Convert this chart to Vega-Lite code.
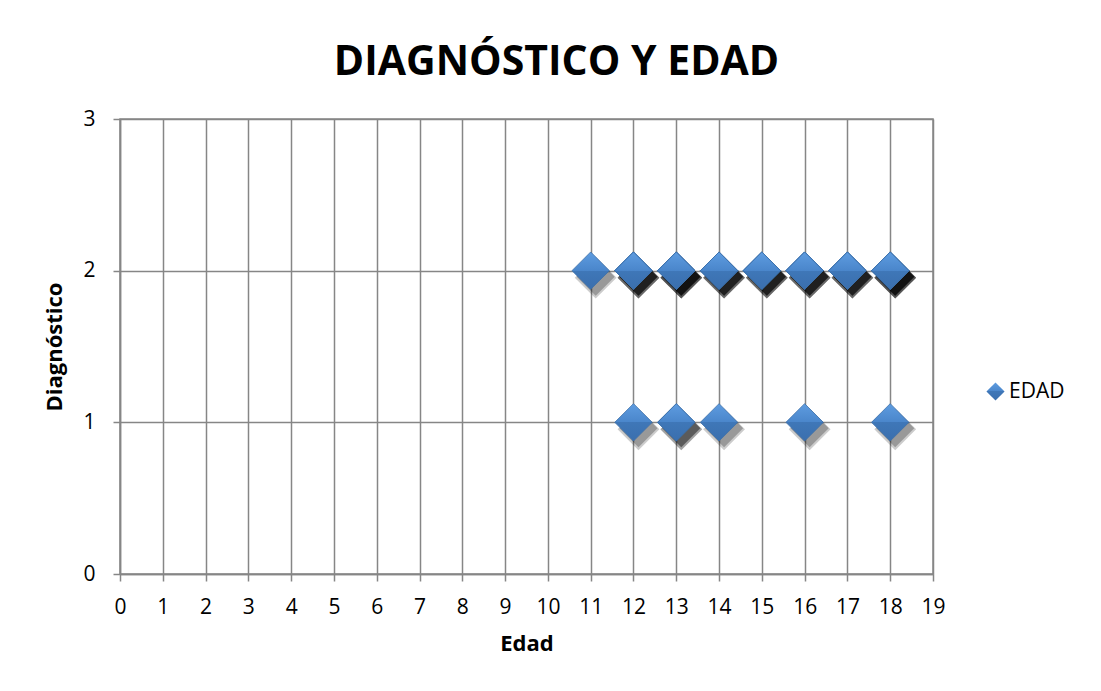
{
  "$schema": "https://vega.github.io/schema/vega-lite/v6.json",
  "width": 813,
  "height": 455,
  "autosize": {"type": "none"},
  "padding": {"left": 120, "top": 119, "right": 168, "bottom": 117},
  "background": "white",
  "config": {
    "font": "Open Sans",
    "view": {"stroke": "#868686", "strokeWidth": 1.5},
    "axis": {
      "gridColor": "#868686", "gridWidth": 1.5, "gridOpacity": 1,
      "domainColor": "#868686", "domainWidth": 1.5,
      "tickColor": "#868686", "tickWidth": 1.5, "tickSize": 7,
      "labelFont": "Open Sans", "labelFontSize": 21, "labelColor": "#000000",
      "titleFont": "Open Sans", "titleFontSize": 22, "titleFontWeight": "bold", "titleColor": "#000000"
    }
  },
  "title": {
    "text": "DIAGNÓSTICO Y EDAD",
    "font": "Open Sans", "fontSize": 41, "fontWeight": "bold", "color": "#000000",
    "anchor": "middle", "dx": 30, "offset": 24
  },
  "data": {
    "values": [
      {"Edad": 11, "Diagnostico": 2, "serie": "EDAD"},
      {"Edad": 12, "Diagnostico": 2, "serie": "EDAD"},
      {"Edad": 12, "Diagnostico": 2, "serie": "EDAD"},
      {"Edad": 12, "Diagnostico": 2, "serie": "EDAD"},
      {"Edad": 12, "Diagnostico": 2, "serie": "EDAD"},
      {"Edad": 13, "Diagnostico": 2, "serie": "EDAD"},
      {"Edad": 13, "Diagnostico": 2, "serie": "EDAD"},
      {"Edad": 13, "Diagnostico": 2, "serie": "EDAD"},
      {"Edad": 13, "Diagnostico": 2, "serie": "EDAD"},
      {"Edad": 13, "Diagnostico": 2, "serie": "EDAD"},
      {"Edad": 14, "Diagnostico": 2, "serie": "EDAD"},
      {"Edad": 14, "Diagnostico": 2, "serie": "EDAD"},
      {"Edad": 14, "Diagnostico": 2, "serie": "EDAD"},
      {"Edad": 14, "Diagnostico": 2, "serie": "EDAD"},
      {"Edad": 15, "Diagnostico": 2, "serie": "EDAD"},
      {"Edad": 15, "Diagnostico": 2, "serie": "EDAD"},
      {"Edad": 15, "Diagnostico": 2, "serie": "EDAD"},
      {"Edad": 15, "Diagnostico": 2, "serie": "EDAD"},
      {"Edad": 16, "Diagnostico": 2, "serie": "EDAD"},
      {"Edad": 16, "Diagnostico": 2, "serie": "EDAD"},
      {"Edad": 16, "Diagnostico": 2, "serie": "EDAD"},
      {"Edad": 16, "Diagnostico": 2, "serie": "EDAD"},
      {"Edad": 17, "Diagnostico": 2, "serie": "EDAD"},
      {"Edad": 17, "Diagnostico": 2, "serie": "EDAD"},
      {"Edad": 17, "Diagnostico": 2, "serie": "EDAD"},
      {"Edad": 17, "Diagnostico": 2, "serie": "EDAD"},
      {"Edad": 18, "Diagnostico": 2, "serie": "EDAD"},
      {"Edad": 18, "Diagnostico": 2, "serie": "EDAD"},
      {"Edad": 18, "Diagnostico": 2, "serie": "EDAD"},
      {"Edad": 18, "Diagnostico": 2, "serie": "EDAD"},
      {"Edad": 18, "Diagnostico": 2, "serie": "EDAD"},
      {"Edad": 12, "Diagnostico": 1, "serie": "EDAD"},
      {"Edad": 13, "Diagnostico": 1, "serie": "EDAD"},
      {"Edad": 13, "Diagnostico": 1, "serie": "EDAD"},
      {"Edad": 14, "Diagnostico": 1, "serie": "EDAD"},
      {"Edad": 16, "Diagnostico": 1, "serie": "EDAD"},
      {"Edad": 18, "Diagnostico": 1, "serie": "EDAD"}
    ]
  },
  "encoding": {
    "x": {
      "field": "Edad", "type": "quantitative",
      "scale": {"domain": [0, 19], "nice": false, "zero": false},
      "axis": {"title": "Edad", "values": [0,1,2,3,4,5,6,7,8,9,10,11,12,13,14,15,16,17,18,19], "labelFlush": false, "labelOverlap": false, "labelFontSize": 21, "labelPadding": 15, "titlePadding": 16, "grid": true}
    },
    "y": {
      "field": "Diagnostico", "type": "quantitative",
      "scale": {"domain": [0, 3], "nice": false},
      "axis": {"title": "Diagnóstico", "values": [0, 1, 2, 3], "labelFlush": false, "labelFontSize": 21, "labelPadding": 18, "titlePadding": 16, "grid": true}
    }
  },
  "layer": [
    {
      "mark": {"type": "point", "shape": "diamond", "filled": true, "size": 1750, "color": "#000000", "opacity": 0.2},
      "encoding": {"xOffset": {"value": 5}, "yOffset": {"value": 7}}
    },
    {
      "mark": {"type": "point", "shape": "diamond", "filled": true, "size": 1450, "color": "#000000", "opacity": 0.25},
      "encoding": {"xOffset": {"value": 5}, "yOffset": {"value": 6}}
    },
    {
      "mark": {
        "type": "point", "filled": true, "size": 1400, "opacity": 1,
        "fill": {"gradient": "linear", "x1": 0, "y1": 0, "x2": 0, "y2": 1, "stops": [{"offset": 0, "color": "#5e9ce0"}, {"offset": 0.5, "color": "#4a86cb"}, {"offset": 0.5, "color": "#3f77b8"}, {"offset": 1, "color": "#3a6fae"}]},
        "stroke": "#3b6ea8", "strokeWidth": 0.8
      },
      "encoding": {
        "shape": {
          "field": "serie", "type": "nominal",
          "scale": {"range": ["diamond"]},
          "legend": {
            "title": null, "orient": "none", "legendX": 865, "legendY": 262,
            "symbolSize": 330, "symbolFillColor": "#4a86cb", "symbolStrokeWidth": 0,
            "labelFont": "Open Sans", "labelFontSize": 21, "labelColor": "#000000", "labelOffset": 3
          }
        }
      }
    }
  ]
}
